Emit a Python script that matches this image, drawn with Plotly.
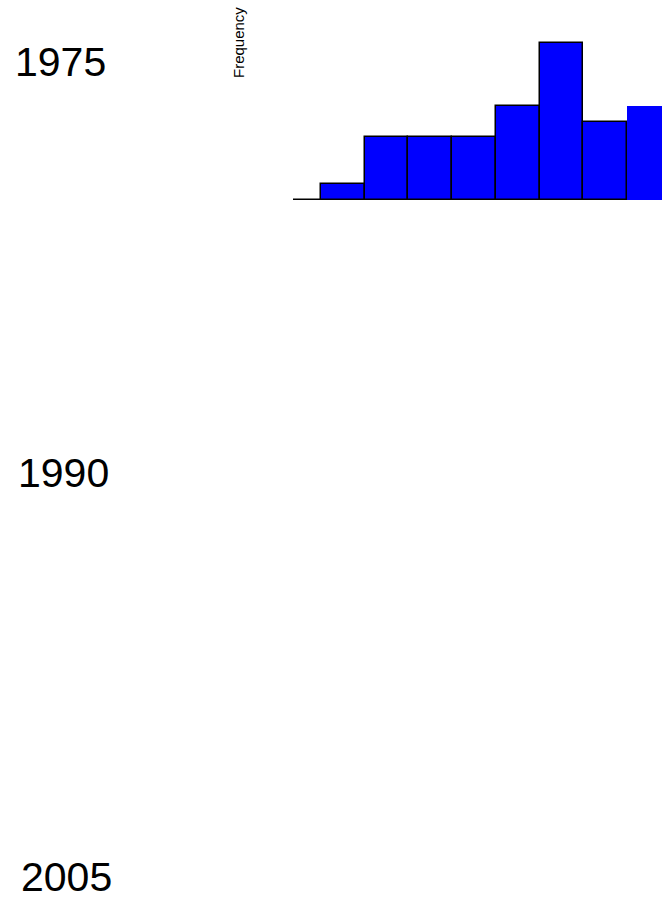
import plotly.graph_objects as go

# ---- data ----
bin_centers = [0.5, 1.5, 2.5, 3.5, 4.5, 5.5, 6.5, 7.5, 8.5]
counts = [0, 1, 4, 4, 4, 6, 10, 5, 6]
year_labels = ["1975", "1990", "2005"]
y_title = "Frequency"

W, H = 662, 900
FONT = "Liberation Sans, Arial, sans-serif"

def px(x):
    return x / W

def py(y):
    return 1 - y / H

line_widths = [1.6] + [1.5] * (len(counts) - 2) + [0]

fig = go.Figure()
fig.add_trace(go.Bar(
    x=bin_centers,
    y=counts,
    width=1,
    marker=dict(color="#0000FF", line=dict(color="black", width=line_widths)),
    showlegend=False,
    hoverinfo="skip",
))

annotations = []
year_pos = [(13, 62), (16, 473), (19, 877)]
for label, (x0, y0) in zip(year_labels, year_pos):
    annotations.append(dict(
        text=label, xref="paper", yref="paper", x=px(x0), y=py(y0),
        xanchor="left", yanchor="middle", showarrow=False,
        font=dict(family=FONT, size=41, color="black"),
    ))
annotations.append(dict(
    text=y_title, xref="paper", yref="paper", x=px(238), y=py(43),
    xanchor="center", yanchor="middle", showarrow=False, textangle=-90,
    font=dict(family=FONT, size=15, color="black"),
))

fig.update_layout(
    width=W, height=H,
    margin=dict(l=0, r=0, t=0, b=0),
    paper_bgcolor="white", plot_bgcolor="white",
    bargap=0,
    xaxis=dict(domain=[px(293), 1], range=[0.36, 8.80], visible=False, fixedrange=True),
    yaxis=dict(domain=[py(200), 1], range=[0, 200 / 15.7], visible=False, fixedrange=True),
    annotations=annotations,
    font=dict(family=FONT),
)

fig.write_html(
    "out.html",
    config={"displayModeBar": False},
    post_script="document.body.style.margin='0';document.body.style.overflow='hidden';",
)
